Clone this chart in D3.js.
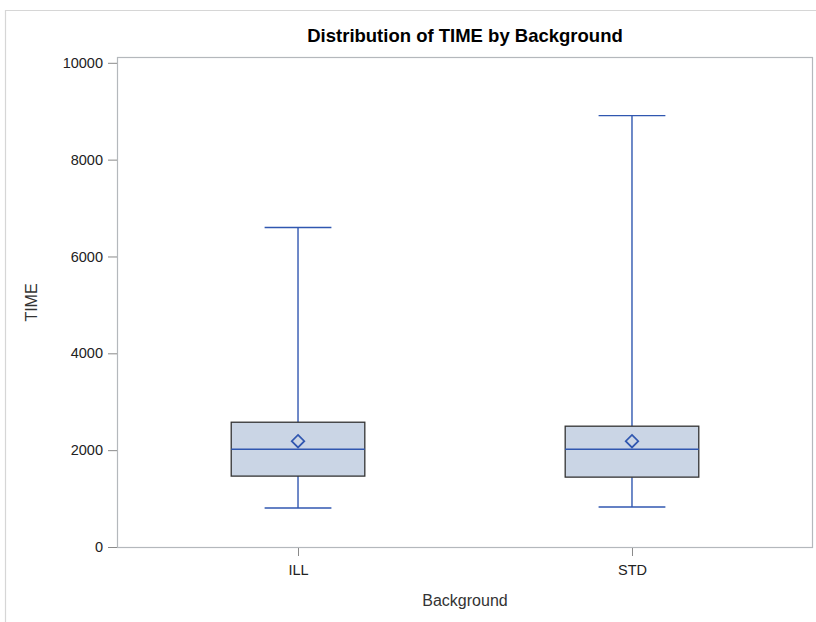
<!DOCTYPE html>
<html><head><meta charset="utf-8">
<script src="https://cdn.jsdelivr.net/npm/d3@7"></script>
<style>body{margin:0;background:#fff}svg{display:block}text{font-family:"Liberation Sans",Arial,sans-serif}</style>
</head><body>
<svg id="c" width="816" height="622"></svg>
<script>
const categories = ["ILL", "STD"];
const minVals = [804, 825];
const q1Vals = [1464, 1443];
const medianVals = [2020, 2020];
const q3Vals = [2577, 2495];
const maxVals = [6600, 8910];
const meanVals = [2186, 2186];
const yTicks = [0, 2000, 4000, 6000, 8000, 10000];

const svg = d3.select("#c");
const L = 117, R = 813, T = 57, B = 548;

svg.append("path").attr("d", "M5.5,622 V10.5 H816").attr("fill","none").attr("stroke","#d6d6d6").attr("stroke-width",1.2);

const y = d3.scaleLinear().domain([0, 10000]).range([547, 62.8]);
const x = d3.scalePoint().domain(categories).range([L, R]).padding(0.542);
const step = x.step();
const boxW = step * 0.4;
const capW = boxW * 0.5;

svg.append("rect").attr("x", L + 0.5).attr("y", T + 0.5).attr("width", R - L - 1).attr("height", B - T - 1)
  .attr("fill", "none").attr("stroke", "#b4b8bc").attr("stroke-width", 1.2);

const yAxis = d3.axisLeft(y).tickValues(yTicks).tickSize(9).tickPadding(5).tickFormat(d3.format("d"));
const gy = svg.append("g").attr("transform", `translate(${L},0)`).call(yAxis);
gy.select(".domain").remove();
gy.selectAll(".tick line").attr("stroke", "#8a8a8a");
gy.selectAll(".tick text").attr("fill", "#222").style("font-size", "14.5px");

const xAxis = d3.axisBottom(x).tickSize(8).tickPadding(9);
const gx = svg.append("g").attr("transform", `translate(0,${B})`).call(xAxis);
gx.select(".domain").remove();
gx.selectAll(".tick line").attr("stroke", "#8a8a8a");
gx.selectAll(".tick text").attr("fill", "#222").style("font-size", "14.5px");

const blue = "#3057b0";
const data = categories.map((c, i) => ({c, min: minVals[i], q1: q1Vals[i], med: medianVals[i], q3: q3Vals[i], max: maxVals[i], mean: meanVals[i]}));

const g = svg.append("g");
data.forEach(d => {
  const cx = x(d.c);
  g.append("line").attr("x1", cx).attr("x2", cx).attr("y1", y(d.max)).attr("y2", y(d.q3)).attr("stroke", blue).attr("stroke-width", 1.4);
  g.append("line").attr("x1", cx).attr("x2", cx).attr("y1", y(d.q1)).attr("y2", y(d.min)).attr("stroke", blue).attr("stroke-width", 1.4);
  g.append("line").attr("x1", cx - capW/2).attr("x2", cx + capW/2).attr("y1", y(d.max)).attr("y2", y(d.max)).attr("stroke", blue).attr("stroke-width", 1.4);
  g.append("line").attr("x1", cx - capW/2).attr("x2", cx + capW/2).attr("y1", y(d.min)).attr("y2", y(d.min)).attr("stroke", blue).attr("stroke-width", 1.4);
  g.append("rect").attr("x", cx - boxW/2).attr("y", y(d.q3)).attr("width", boxW).attr("height", y(d.q1) - y(d.q3))
    .attr("fill", "#cad5e5").attr("stroke", "#333").attr("stroke-width", 1.3);
  g.append("line").attr("x1", cx - boxW/2).attr("x2", cx + boxW/2).attr("y1", y(d.med)).attr("y2", y(d.med)).attr("stroke", blue).attr("stroke-width", 1.4);
  const my = y(d.mean), s = 6.3;
  g.append("path").attr("d", `M${cx},${my - s} L${cx + s},${my} L${cx},${my + s} L${cx - s},${my} Z`)
    .attr("fill", "none").attr("stroke", blue).attr("stroke-width", 1.7);
});

svg.append("text").attr("x", (L + R) / 2).attr("y", 42).attr("text-anchor", "middle")
  .style("font-size", "18.5px").style("font-weight", "bold").attr("fill", "#000").text("Distribution of TIME by Background");
svg.append("text").attr("x", (L + R) / 2).attr("y", 606).attr("text-anchor", "middle")
  .style("font-size", "16px").attr("fill", "#333").text("Background");
svg.append("text").attr("transform", `translate(37,${(T + B) / 2}) rotate(-90)`).attr("text-anchor", "middle")
  .style("font-size", "16px").attr("fill", "#333").text("TIME");
</script>
</body></html>
